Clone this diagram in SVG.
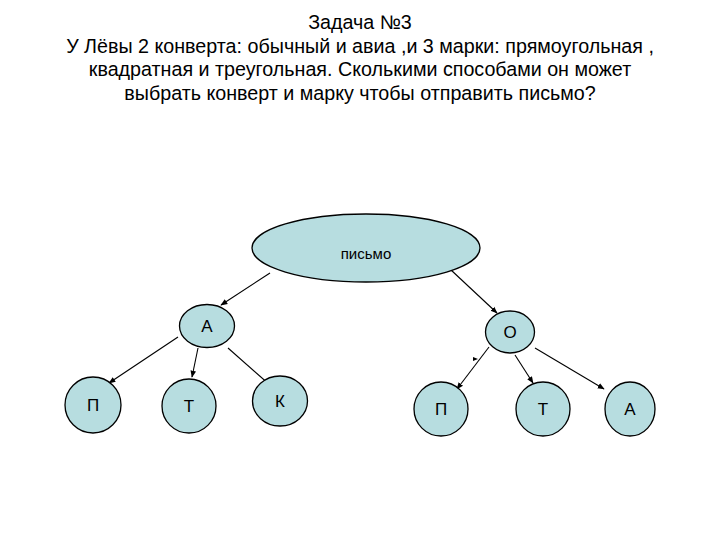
<svg xmlns="http://www.w3.org/2000/svg" width="720" height="540" viewBox="0 0 720 540">
<style>
.t{font-family:"Liberation Sans",Arial,sans-serif;font-size:19.7px;fill:#000;text-anchor:middle}
.n ellipse{fill:#b7dde0;stroke:#000;stroke-width:1.3}
.n text{font-family:"Liberation Sans",Arial,sans-serif;font-size:17px;fill:#000;text-anchor:middle}
.c line{stroke:#000;stroke-width:1.1;marker-end:url(#ah)}
</style>
<defs>
<marker id="ah" viewBox="0 0 10 10" refX="9" refY="5" markerWidth="7" markerHeight="7" orient="auto" markerUnits="userSpaceOnUse">
<path d="M0,1 L10,5 L0,9 z" fill="#000"/>
</marker>
</defs>
<rect width="720" height="540" fill="#fff"/>
<g id="title">
<text class="t" x="360" y="29">Задача №3</text>
<text class="t" x="360" y="53">У Лёвы 2 конверта: обычный и авиа ,и 3 марки: прямоугольная ,</text>
<text class="t" x="360" y="76">квадратная и треугольная. Сколькими способами он может</text>
<text class="t" x="360" y="100">выбрать конверт и марку чтобы отправить письмо?</text>
</g>
<g class="c" id="connectors">
<line x1="270" y1="273" x2="221" y2="305"/>
<line x1="451" y1="270" x2="497" y2="313"/>
<line x1="178" y1="337" x2="109" y2="383"/>
<line x1="198" y1="348" x2="192" y2="377"/>
<line x1="228" y1="348" x2="270" y2="385"/>
<line x1="489" y1="347" x2="457" y2="389"/>
<line x1="515" y1="355" x2="533" y2="383"/>
<line x1="535" y1="348" x2="604" y2="389"/>
<path d="M473,357 L478,359 L473,361 z" fill="#000" stroke="none"/>
</g>
<g class="n" id="pismo"><ellipse cx="366" cy="248" rx="114" ry="34"/><text x="366" y="259" style="font-size:15px">письмо</text></g>
<g class="n" id="nA"><ellipse cx="207" cy="326" rx="27.5" ry="21.5"/><text x="207" y="332">А</text></g>
<g class="n" id="nP1"><ellipse cx="93" cy="405" rx="28" ry="28"/><text x="93" y="411">П</text></g>
<g class="n" id="nT1"><ellipse cx="189" cy="406" rx="27" ry="27"/><text x="189" y="412">Т</text></g>
<g class="n" id="nK"><ellipse cx="280" cy="401" rx="27.5" ry="25"/><text x="280" y="407">К</text></g>
<g class="n" id="nO"><ellipse cx="510" cy="332" rx="24.5" ry="21"/><text x="510" y="338">О</text></g>
<g class="n" id="nP2"><ellipse cx="441" cy="409" rx="27" ry="27"/><text x="441" y="415">П</text></g>
<g class="n" id="nT2"><ellipse cx="543" cy="409" rx="27" ry="27"/><text x="543" y="415">Т</text></g>
<g class="n" id="nA2"><ellipse cx="630" cy="409" rx="25" ry="27"/><text x="630" y="415">А</text></g>
</svg>
